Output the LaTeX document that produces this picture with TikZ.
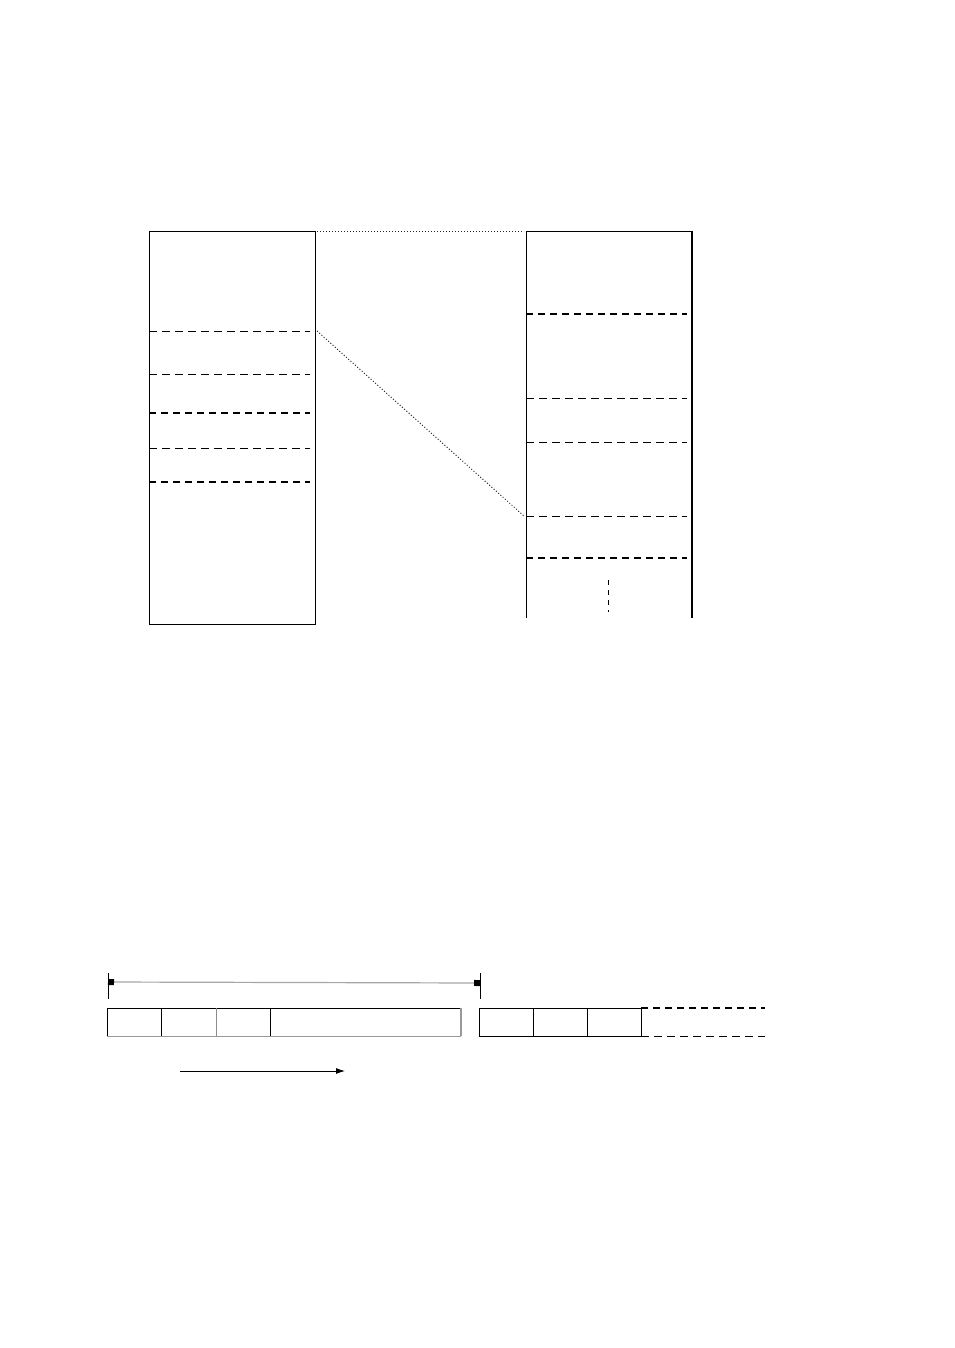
\documentclass[tikz,border=0pt]{standalone}
\usetikzlibrary{arrows.meta}
\begin{document}
\begin{tikzpicture}[x=1pt,y=-1pt,
  thindash/.style={line width=0.9pt,dash pattern=on 8pt off 5pt},
  thickdash/.style={line width=1.8pt,dash pattern=on 7pt off 5pt},
  dotline/.style={line width=1pt,dash pattern=on 1pt off 2pt,black!85},
  frame/.style={line width=0.9pt},
  cell/.style={draw=none,minimum height=28pt,inner sep=0pt,outer sep=0pt,anchor=north west}]
\useasboundingbox (0,0) rectangle (954,1348);
% left memory block
\node[draw,line width=0.9pt,minimum width=166pt,minimum height=393pt,inner sep=0pt,outer sep=0pt,anchor=north west] (L) at (149,231) {};
\foreach \y/\s in {331/thindash,374/thindash,413/thickdash,448/thindash,482/thickdash}
  \draw[\s] (149,\y) -- (310,\y);
% right memory block (open bottom)
\coordinate (RTL) at (526,231);
\coordinate (RTR) at (692,231);
\coordinate (RBL) at (526,618);
\coordinate (RBR) at (692,618);
\draw[frame] (RBL) -- (RTL) -- (RTR);
\draw[line width=1.4pt] (RTR) -- (RBR);
\foreach \y/\s in {314/thickdash,398/thindash,442/thindash,516/thindash,558/thickdash}
  \draw[\s] (526,\y) -- (687,\y);
\draw[line width=0.9pt,dash pattern=on 5pt off 5pt] (608,580) -- (608,612);
% dotted connectors
\coordinate (A1) at (317,232);
\coordinate (B1) at (524,232);
\coordinate (A2) at (317,331);
\coordinate (B2) at (524,516);
\draw[dotline] (A1) -- (B1);
\draw[dotline] (A2) -- (B2);
% dimension line
\coordinate (T1a) at (108,973);
\coordinate (T1b) at (108,999);
\coordinate (T2a) at (480,973);
\coordinate (T2b) at (480,999);
\draw[line width=0.9pt] (T1a) -- (T1b);
\draw[line width=0.9pt] (T2a) -- (T2b);
\coordinate (D1) at (108,982);
\coordinate (D2) at (480,983);
\draw[black!35,line width=1.2pt,{Square[black,length=6pt,width=6pt]}-{Square[black,length=6pt,width=6pt]}] (D1) -- (D2);
% first group of cells
\node[cell,minimum width=54pt] (c1) at (107,1008) {};
\node[cell,minimum width=55pt] (c2) at (161,1008) {};
\node[cell,minimum width=54pt] (c3) at (216,1008) {};
\node[cell,minimum width=191pt] (c4) at (270,1008) {};
\draw[line width=1pt] (c1.north west) -- (c4.north east);
\draw[black!40,line width=1pt] (c1.south west) -- (c4.south east);
\draw[line width=1pt] (c1.north west) -- (c1.south west);
\draw[line width=1pt] (c2.north west) -- (c2.south west);
\draw[black!45,line width=1pt] (c3.north west) -- (c3.south west);
\draw[line width=1pt] (c4.north west) -- (c4.south west);
\draw[black!40,line width=1.6pt] (c4.north east) -- (c4.south east);
% second group of cells
\node[cell,draw,line width=1pt,minimum width=54pt] (d1) at (479,1008) {};
\node[cell,draw,line width=1pt,minimum width=54pt] (d2) at (533,1008) {};
\node[cell,draw,line width=1pt,minimum width=54pt] (d3) at (587,1008) {};
\coordinate (E1) at (765,1008);
\coordinate (E2) at (765,1036);
\draw[thickdash] (d3.north east) -- (E1);
\draw[thindash] (d3.south east) -- (E2);
% direction arrow
\coordinate (F1) at (180,1071);
\coordinate (F2) at (345,1071);
\draw[line width=0.9pt,-{Latex[length=9pt,width=6pt]}] (F1) -- (F2);
\end{tikzpicture}
\end{document}
